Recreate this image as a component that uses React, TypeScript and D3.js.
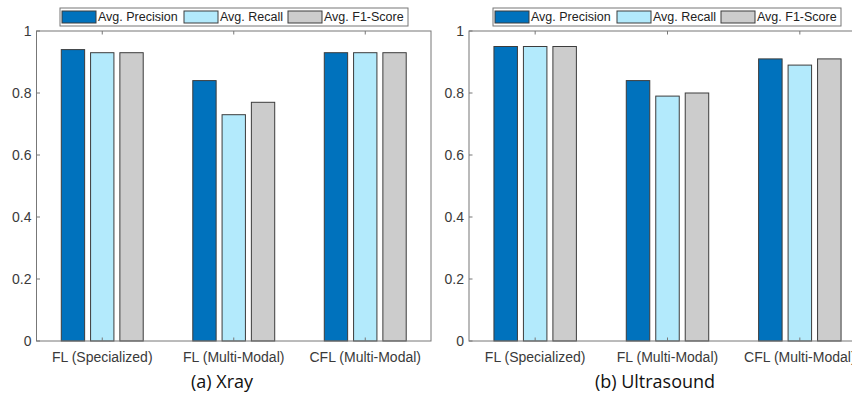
import React from "react";
import * as d3 from "d3";

const categories = ["FL (Specialized)", "FL (Multi-Modal)", "CFL (Multi-Modal)"];
const seriesNames = ["Avg. Precision", "Avg. Recall", "Avg. F1-Score"];
const seriesColors = ["#0072bd", "#b3eafc", "#cccccc"];
const yTicks = [0, 0.2, 0.4, 0.6, 0.8, 1];

const xrayPrecision = [0.94, 0.84, 0.93];
const xrayRecall = [0.93, 0.73, 0.93];
const xrayF1 = [0.93, 0.77, 0.93];

const usPrecision = [0.95, 0.84, 0.91];
const usRecall = [0.95, 0.79, 0.89];
const usF1 = [0.95, 0.8, 0.91];

const panels = [
  { caption: "(a) Xray", left: 36.5, right: 431, legendX: 60, series: [xrayPrecision, xrayRecall, xrayF1] },
  { caption: "(b) Ultrasound", left: 469, right: 866, legendX: 493, series: [usPrecision, usRecall, usF1] },
];

const legendOffsets = [0, 122, 226];
const axisColor = "#777";
const textColor = "#3a3a3a";
const tickFont = "'Liberation Sans', Arial, sans-serif";

function Panel({ p }) {
  const y = d3.scaleLinear().domain([0, 1]).range([341, 31]);
  const x = d3
    .scaleBand()
    .domain(categories)
    .range([p.left, p.right])
    .paddingInner(0.377)
    .paddingOuter(0.1885);
  const xs = d3.scaleBand().domain(seriesNames).range([0, x.bandwidth()]).paddingInner(0.203);
  const center = (c) => x(c) + x.bandwidth() / 2;
  const midX = (p.left + p.right) / 2;

  return (
    <g>
      {/* bars */}
      {seriesNames.map((s, si) =>
        categories.map((c, ci) => (
          <rect
            key={s + c}
            x={x(c) + xs(s)}
            y={y(p.series[si][ci])}
            width={xs.bandwidth()}
            height={y(0) - y(p.series[si][ci])}
            fill={seriesColors[si]}
            stroke="#3c3c3c"
            strokeWidth={1}
          />
        ))
      )}
      {/* frame */}
      <rect x={p.left} y={y(1)} width={p.right - p.left} height={y(0) - y(1)} fill="none" stroke={axisColor} strokeWidth={1} />
      {/* y ticks */}
      {yTicks.map((t) => (
        <g key={t}>
          <line x1={p.left} x2={p.left + 3.5} y1={y(t)} y2={y(t)} stroke={axisColor} />
          <text x={p.left - 5} y={y(t)} dy="0.35em" textAnchor="end" fontSize={14} fill={textColor} fontFamily={tickFont}>
            {t}
          </text>
        </g>
      ))}
      {/* x ticks */}
      {categories.map((c) => (
        <g key={c}>
          <line x1={center(c)} x2={center(c)} y1={y(0)} y2={y(0) - 3.5} stroke={axisColor} />
          <line x1={center(c)} x2={center(c)} y1={y(1)} y2={y(1) + 3.5} stroke={axisColor} />
          <text x={center(c)} y={357} dy="0.35em" textAnchor="middle" fontSize={14} fill={textColor} fontFamily={tickFont}>
            {c}
          </text>
        </g>
      ))}
      {/* legend */}
      <rect x={p.legendX} y={8} width={348} height={18} fill="#fff" stroke={axisColor} />
      {seriesNames.map((s, i) => (
        <g key={s} transform={`translate(${p.legendX + 2 + legendOffsets[i]},0)`}>
          <rect x={0} y={11} width={34} height={12} fill={seriesColors[i]} stroke="#3c3c3c" />
          <text x={36} y={17} dy="0.35em" fontSize={12.5} fill="#222" fontFamily={tickFont}>
            {s}
          </text>
        </g>
      ))}
      <text x={midX < 430 ? 222 : 655} y={382} dy="0.35em" textAnchor="middle" fontSize={18} fill="#111" fontFamily="'Open Sans', sans-serif">
        {p.caption}
      </text>
    </g>
  );
}

export default function App() {
  return (
    <svg width={852} height={398} style={{ display: "block", position: "absolute", left: 0, top: 0, background: "#fff" }}>
      <rect width={852} height={398} fill="#fff" />
      {panels.map((p) => (
        <Panel key={p.caption} p={p} />
      ))}
    </svg>
  );
}
